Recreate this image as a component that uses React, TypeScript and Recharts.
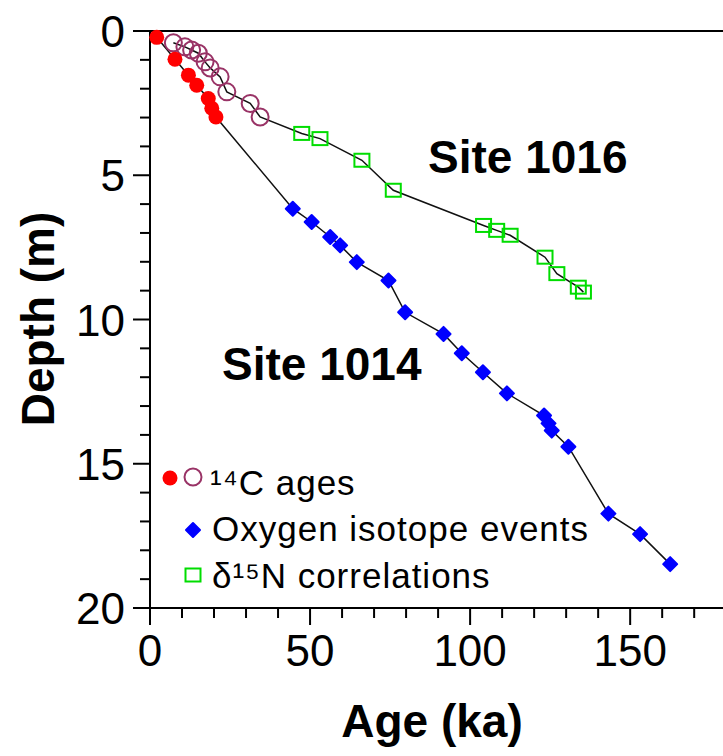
import React from 'react';
import { ScatterChart, Scatter, XAxis, YAxis, ReferenceLine } from 'recharts';

// Age (ka) vs depth (m) for ODP Sites 1014 and 1016
const ageTicks = [0, 10, 20, 30, 40, 50, 60, 70, 80, 90, 100, 110, 120, 130, 140, 150, 160, 170];
const depthTicks = [0, 1, 2, 3, 4, 5, 6, 7, 8, 9, 10, 11, 12, 13, 14, 15, 16, 17, 18, 19, 20];

// Site 1014 radiocarbon ages
const c14Site1014 = [
  { age: 2.1, depth: 0.22 },
  { age: 7.8, depth: 0.98 },
  { age: 12.0, depth: 1.53 },
  { age: 14.6, depth: 1.88 },
  { age: 18.2, depth: 2.34 },
  { age: 19.3, depth: 2.68 },
  { age: 20.6, depth: 2.98 },
];

// Site 1016 radiocarbon ages
const c14Site1016 = [
  { age: 7.3, depth: 0.41 },
  { age: 10.9, depth: 0.55 },
  { age: 13.0, depth: 0.66 },
  { age: 15.1, depth: 0.77 },
  { age: 17.2, depth: 1.07 },
  { age: 18.8, depth: 1.28 },
  { age: 21.9, depth: 1.59 },
  { age: 24.0, depth: 2.11 },
  { age: 31.3, depth: 2.51 },
  { age: 34.4, depth: 2.98 },
];

// Site 1014 oxygen isotope events
const oxygenSite1014 = [
  { age: 44.6, depth: 6.16 },
  { age: 50.5, depth: 6.62 },
  { age: 56.3, depth: 7.14 },
  { age: 59.4, depth: 7.43 },
  { age: 64.6, depth: 8.01 },
  { age: 74.5, depth: 8.65 },
  { age: 79.7, depth: 9.75 },
  { age: 91.7, depth: 10.5 },
  { age: 97.4, depth: 11.17 },
  { age: 104.0, depth: 11.83 },
  { age: 111.5, depth: 12.56 },
  { age: 123.1, depth: 13.33 },
  { age: 124.5, depth: 13.6 },
  { age: 125.5, depth: 13.85 },
  { age: 130.7, depth: 14.41 },
  { age: 143.2, depth: 16.73 },
  { age: 153.1, depth: 17.44 },
  { age: 162.5, depth: 18.48 },
];

// Site 1016 d15N correlation points
const n15Site1016 = [
  { age: 47.4, depth: 3.55 },
  { age: 53.1, depth: 3.73 },
  { age: 66.2, depth: 4.48 },
  { age: 76.0, depth: 5.52 },
  { age: 104.2, depth: 6.74 },
  { age: 108.3, depth: 6.91 },
  { age: 112.5, depth: 7.08 },
  { age: 123.4, depth: 7.84 },
  { age: 127.1, depth: 8.41 },
  { age: 133.8, depth: 8.88 },
  { age: 135.4, depth: 9.05 },
];

const site1014Path = [...c14Site1014, ...oxygenSite1014];
const site1016Path = [...c14Site1016, ...n15Site1016];

const FONT = '"Liberation Sans", Arial, sans-serif';
const RED = '#ff0000';
const PURPLE = '#993366';
const BLUE = '#0000ff';
const GREEN = '#00dd00';

const RedDot = ({ cx, cy }: any) => <circle cx={cx} cy={cy} r={7.5} fill={RED} />;
const OpenCircle = ({ cx, cy }: any) => (
  <circle cx={cx} cy={cy} r={8.5} fill="none" stroke={PURPLE} strokeWidth={2} />
);
const BlueDiamond = ({ cx, cy }: any) => (
  <path
    d={`M${cx},${cy - 7}L${cx + 7},${cy}L${cx},${cy + 7}L${cx - 7},${cy}Z`}
    fill={BLUE}
    stroke={BLUE}
    strokeWidth={2}
    strokeLinejoin="round"
  />
);
const GreenSquare = ({ cx, cy }: any) => (
  <rect x={cx - 7.5} y={cy - 6.5} width={15} height={13} fill="none" stroke={GREEN} strokeWidth={2} />
);
const NoMarker = () => <g />;

const AgeTick = ({ x, y, payload }: any) => {
  const major = payload.value % 50 === 0;
  return (
    <g>
      <line x1={x} y1={y} x2={x} y2={y + (major ? 17 : 10)} stroke="#000" strokeWidth={2} />
      {major && (
        <text x={x} y={y + 58} textAnchor="middle" fontSize={44} fontFamily={FONT} fill="#000">
          {payload.value}
        </text>
      )}
    </g>
  );
};

const DepthTick = ({ x, y, payload }: any) => {
  const major = payload.value % 5 === 0;
  return (
    <g>
      <line x1={x - (major ? 17 : 10)} y1={y} x2={x} y2={y} stroke="#000" strokeWidth={2} />
      {major && (
        <text x={x - 25} y={y + 16} textAnchor="end" fontSize={44} fontFamily={FONT} fill="#000">
          {payload.value}
        </text>
      )}
    </g>
  );
};

export default function App() {
  return (
    <div style={{ position: 'absolute', left: 0, top: 0, width: 723, height: 756, overflow: 'hidden', background: '#fff' }}>
      <ScatterChart width={723} height={756} margin={{ top: 31, right: 0, bottom: 0, left: 0 }}>
        <XAxis
          type="number"
          dataKey="age"
          domain={[0, 179]}
          ticks={ageTicks}
          interval={0}
          height={148}
          tickSize={0}
          tickMargin={0}
          tick={<AgeTick />}
          axisLine={{ stroke: '#000', strokeWidth: 2 }}
        />
        <YAxis
          type="number"
          dataKey="depth"
          domain={[0, 20]}
          reversed
          ticks={depthTicks}
          interval={0}
          width={150}
          tickSize={0}
          tickMargin={0}
          tick={<DepthTick />}
          axisLine={{ stroke: '#000', strokeWidth: 2 }}
        />
        <ReferenceLine y={0} stroke="#000" strokeWidth={2} />
        <Scatter
          data={site1014Path}
          shape={NoMarker}
          line={{ stroke: '#111', strokeWidth: 1.5 }}
          lineJointType="linear"
          isAnimationActive={false}
        />
        <Scatter
          data={site1016Path}
          shape={NoMarker}
          line={{ stroke: '#111', strokeWidth: 1.5 }}
          lineJointType="linear"
          isAnimationActive={false}
        />
        <Scatter data={c14Site1016} shape={OpenCircle} isAnimationActive={false} />
        <Scatter data={n15Site1016} shape={GreenSquare} isAnimationActive={false} />
        <Scatter data={c14Site1014} shape={RedDot} isAnimationActive={false} />
        <Scatter data={oxygenSite1014} shape={BlueDiamond} isAnimationActive={false} />
      </ScatterChart>

      <svg
        width={723}
        height={756}
        style={{ position: 'absolute', left: 0, top: 0, pointerEvents: 'none' }}
        fontFamily={FONT}
      >
        <text x={428} y={173} fontSize={46} fontWeight="bold" fill="#000">Site 1016</text>
        <text x={222} y={380} fontSize={46} fontWeight="bold" fill="#000">Site 1014</text>

        <text x={432} y={737} textAnchor="middle" fontSize={46} fontWeight="bold" fill="#000">Age (ka)</text>
        <text
          transform="translate(54,319) rotate(-90)"
          textAnchor="middle"
          fontSize={46}
          fontWeight="bold"
          fill="#000"
        >
          Depth (m)
        </text>

        <RedDot cx={170} cy={478} />
        <OpenCircle cx={193} cy={477} />
        <text x={210} y={495} fontSize={35} letterSpacing={1} fill="#000">¹⁴C ages</text>
        <BlueDiamond cx={193} cy={530} />
        <text x={212} y={541} fontSize={35} letterSpacing={1} fill="#000">Oxygen isotope events</text>
        <GreenSquare cx={193} cy={575} />
        <text x={212} y={588} fontSize={35} letterSpacing={1} fill="#000">δ¹⁵N correlations</text>
      </svg>
    </div>
  );
}
